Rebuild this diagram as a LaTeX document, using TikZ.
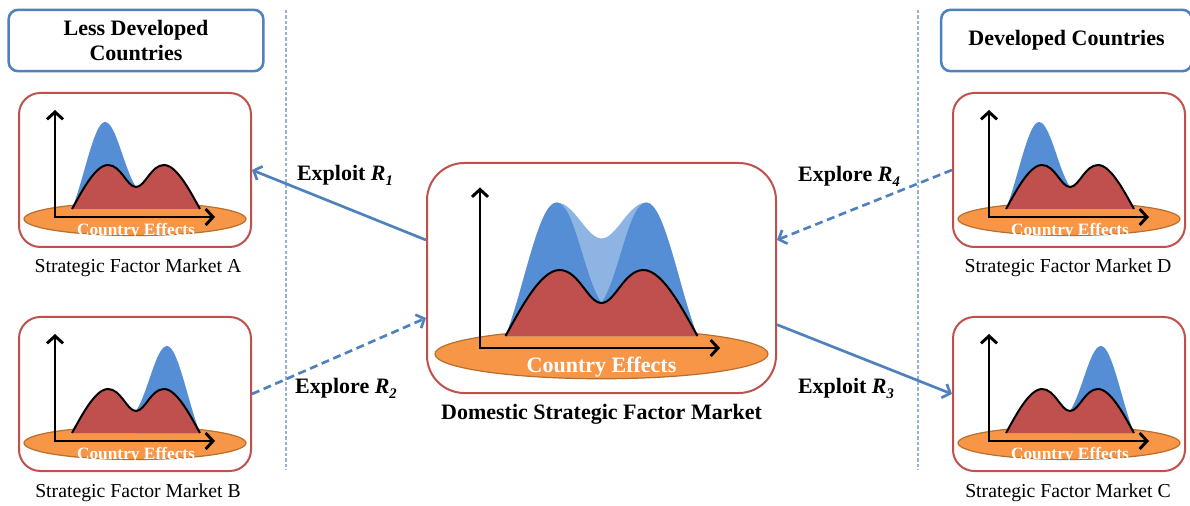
\documentclass[tikz,border=0pt]{standalone}
\usepackage{fontspec}
\setmainfont{Liberation Serif}
\usetikzlibrary{arrows.meta,calc}

\definecolor{boxred}{RGB}{192,80,77}
\definecolor{hillred}{RGB}{192,80,77}
\definecolor{peakblue}{RGB}{85,142,213}
\definecolor{paleblue}{RGB}{142,180,227}
\definecolor{linkblue}{RGB}{79,129,189}
\definecolor{plateorange}{RGB}{247,150,70}
\definecolor{plateedge}{RGB}{185,110,45}
\definecolor{guideblue}{RGB}{149,179,215}

% bold italic R with a lowered index
\newcommand\Rsym[1]{\textit{R}\raisebox{-0.5ex}{\fontsize{11}{11}\selectfont\textit{#1}}}

\begin{document}
\begin{tikzpicture}[
  x=0.75pt, y=-0.75pt,
  marketbox/.style={draw=boxred, line width=1.5pt, rounded corners=16pt,
    minimum width=174pt, minimum height=115.5pt, inner sep=0pt},
  bigbox/.style={marketbox, rounded corners=28pt,
    minimum width=261.75pt, minimum height=172.5pt},
  headerbox/.style={draw=linkblue, line width=1.9pt, rounded corners=7pt,
    font=\fontsize{16.5}{19}\selectfont\bfseries, align=center,
    minimum height=46pt, inner sep=0pt},
  captiontext/.style={font=\fontsize{14.8}{17}\selectfont, inner sep=0pt},
  domtitle/.style={font=\fontsize{16.5}{19}\selectfont\bfseries, inner sep=0pt},
  linklabel/.style={font=\fontsize{16.5}{19}\selectfont\bfseries, inner sep=0pt},
  plateshape/.style={fill=plateorange, draw=plateedge, line width=0.9pt},
  linkarrow/.style={draw=linkblue, line width=2pt,
    -{Straight Barb[length=5pt,width=11pt]}},
  explorearrow/.style={linkarrow, dash pattern=on 6pt off 3.5pt},
  guideline/.style={draw=guideblue, line width=0.8pt, dash pattern=on 2.5pt off 1.6pt},
  axesline/.style={line width=2.2pt,
    {Straight Barb[length=5.5pt,width=12pt]}-{Straight Barb[length=5.5pt,width=12pt]}},
  effects/.style={text=white, font=\fontsize{13}{13}\selectfont\bfseries, inner sep=0pt},
  bigeffects/.style={effects, font=\fontsize{16.5}{16.5}\selectfont\bfseries},
  pics/plate/.style={code={
    \draw[plateshape] (0,0) ellipse [x radius=111, y radius=16.5];}},
  pics/humpleft/.style={code={
    \fill[peakblue] (-64,0) .. controls (-52,-30) and (-42,-87) .. (-31,-87)
      .. controls (-20,-87) and (-12,-40) .. (0,-22) -- (0,0) -- cycle;}},
  pics/humpright/.style={code={
    \fill[peakblue] (64,0) .. controls (52,-30) and (42,-87) .. (31,-87)
      .. controls (20,-87) and (12,-40) .. (0,-22) -- (0,0) -- cycle;}},
  pics/twinpeaks/.style={code={
    \fill[paleblue] (-64,0) .. controls (-52,-30) and (-42,-89) .. (-30,-89)
      .. controls (-18,-89) and (-10,-65) .. (0,-65)
      .. controls (10,-65) and (18,-89) .. (30,-89)
      .. controls (42,-89) and (52,-30) .. (64,0) -- cycle;
    \fill[peakblue] (-64,0) .. controls (-52,-30) and (-42,-89) .. (-30,-89)
      .. controls (-18,-89) and (-12,-40) .. (0,-22) -- (0,0) -- cycle;
    \fill[peakblue] (64,0) .. controls (52,-30) and (42,-89) .. (30,-89)
      .. controls (18,-89) and (12,-40) .. (0,-22) -- (0,0) -- cycle;}},
  pics/redhills/.style={code={
    \fill[hillred] (-64,0) .. controls (-55,-16) and (-41,-44) .. (-28,-44)
      .. controls (-15,-44) and (-9,-22) .. (0,-22)
      .. controls (9,-22) and (15,-44) .. (28,-44)
      .. controls (41,-44) and (55,-16) .. (64,0) -- cycle;
    \draw[line width=1.5pt] (-64,0) .. controls (-55,-16) and (-41,-44) .. (-28,-44)
      .. controls (-15,-44) and (-9,-22) .. (0,-22)
      .. controls (9,-22) and (15,-44) .. (28,-44)
      .. controls (41,-44) and (55,-16) .. (64,0);
    \draw[axesline] (-81,-99) |- (79,8);}}
]
\useasboundingbox (0,0) rectangle (1190,506);
\fill[white] (0,0) rectangle (1190,506);

% region dividers
\coordinate (g1t) at (286,10);  \coordinate (g1b) at (286,470);
\coordinate (g2t) at (918,10);  \coordinate (g2b) at (918,470);
\draw[guideline] (g1t) -- (g1b);
\draw[guideline] (g2t) -- (g2b);

% group headers
\node[headerbox, minimum width=191pt] (ldc) at (136,40.5) {Less Developed\\Countries};
\node[headerbox, minimum width=188pt] (dc) at (1066.5,40.5) {Developed Countries};

% market panels
\node[marketbox] (A) at (135,170) {};
\node[marketbox] (B) at (135,394) {};
\node[marketbox] (D) at (1069,170) {};
\node[marketbox] (C) at (1069,394) {};
\node[bigbox] (dom) at (601.5,278) {};

% market A
\pic at ($(A)+(0,49)$) {plate};
\pic at ($(A)+(1,39)$) {humpleft};
\pic at ($(A)+(1,39)$) {redhills};
\node[effects] (effA) at ($(A)+(1,61)$) {Country Effects};
% market B
\pic at ($(B)+(0,49)$) {plate};
\pic at ($(B)+(1,39)$) {humpright};
\pic at ($(B)+(1,39)$) {redhills};
\node[effects] (effB) at ($(B)+(1,61)$) {Country Effects};
% market D
\pic at ($(D)+(0,49)$) {plate};
\pic at ($(D)+(1,39)$) {humpleft};
\pic at ($(D)+(1,39)$) {redhills};
\node[effects] (effD) at ($(D)+(1,61)$) {Country Effects};
% market C
\pic at ($(C)+(0,49)$) {plate};
\pic at ($(C)+(1,39)$) {humpright};
\pic at ($(C)+(1,39)$) {redhills};
\node[effects] (effC) at ($(C)+(1,61)$) {Country Effects};
% domestic market
\pic[scale=1.5] at ($(dom)+(0,76)$) {plate};
\pic[scale=1.5] at ($(dom)+(0,58)$) {twinpeaks};
\pic[scale=1.5] at ($(dom)+(0,58)$) {redhills};
\node[bigeffects] (effdom) at ($(dom)+(0,89)$) {Country Effects};

% captions
\node[captiontext] (capA) at ($(A.south)+(3,20)$) {Strategic Factor Market A};
\node[captiontext] (capB) at ($(B.south)+(3,21)$) {Strategic Factor Market B};
\node[captiontext] (capD) at ($(D.south)+(-1,20)$) {Strategic Factor Market D};
\node[captiontext] (capC) at ($(C.south)+(-1,21)$) {Strategic Factor Market C};
\node[domtitle] (capdom) at ($(dom.south)+(0,20)$) {Domestic Strategic Factor Market};

% flows between markets
\draw[linkarrow] ([yshift=28.5pt]dom.west) -- (A.east);
\draw[explorearrow] (B.east) -- ([yshift=-30pt]dom.west);
\draw[explorearrow] (D.west) -- ([yshift=28.5pt]dom.east);
\draw[linkarrow] ([yshift=-35pt]dom.east) -- (C.west);

\node[linklabel] (l1) at (345,175) {Exploit \Rsym{1}};
\node[linklabel] (l2) at (346,388) {Explore \Rsym{2}};
\node[linklabel] (l4) at (849,176) {Explore \Rsym{4}};
\node[linklabel] (l3) at (846,388) {Exploit \Rsym{3}};
\end{tikzpicture}
\end{document}
